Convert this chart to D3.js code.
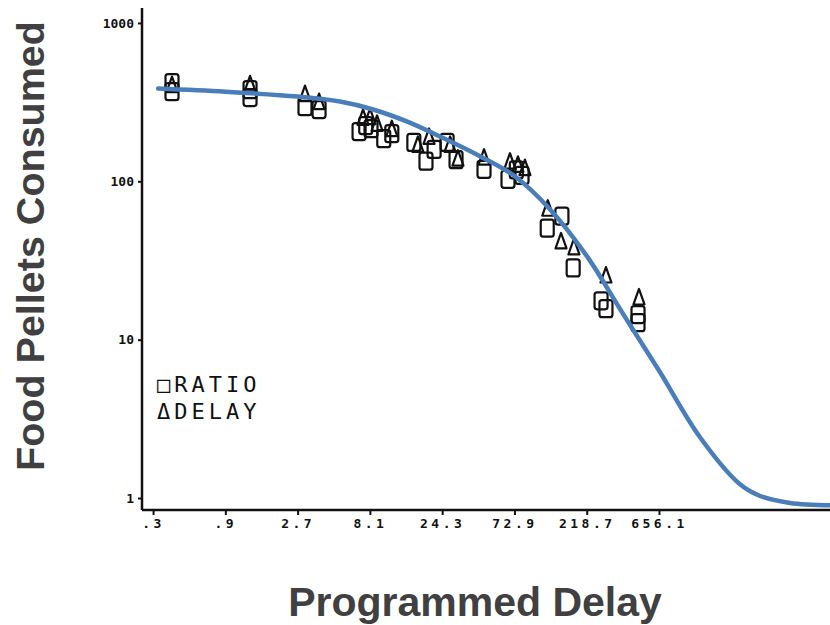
<!DOCTYPE html>
<html>
<head>
<meta charset="utf-8">
<script src="https://cdn.jsdelivr.net/npm/d3@7"></script>
<style>
  body { margin: 0; background: #fff; }
</style>
</head>
<body>
<div id="chart"></div>
<script>
// x tick values (programmed delay), y tick values
var xTicks = [0.3, 0.9, 2.7, 8.1, 24.3, 72.9, 218.7, 656.1];
var xTickLabels = [".3", ".9", "2.7", "8.1", "24.3", "72.9", "218.7", "656.1"];
var yTicks = [1, 10, 100, 1000];

// RATIO points (squares): delay / pellets
var ratioX = [0.40, 0.40, 1.31, 1.31, 3.02, 3.74, 6.87, 7.6, 8.24, 10.0, 11.3, 15.8, 19.0, 21.5, 26.2, 30.0, 45.9, 66.1, 75, 81.8, 120, 150, 178, 272, 293, 477, 477];
var ratioY = [420, 368, 379, 338, 296, 284, 206, 225, 215, 186, 200, 176, 134, 159, 176, 137, 119, 103, 118, 109, 50.6, 60.3, 28.4, 17.6, 15.7, 14.4, 12.8];

// DELAY points (triangles)
var delayX = [0.40, 1.31, 3.02, 3.74, 7.30, 8.12, 9.03, 11.3, 16.8, 19.9, 27.4, 30.9, 45.9, 68.1, 76.9, 85.5, 121, 148, 180, 293, 484];
var delayY = [408, 413, 358, 319, 253, 256, 232, 215, 171, 192, 171, 140, 142, 134, 128, 122, 67.6, 42, 38.5, 25.6, 18.6];

// fitted curve
var fitX = [0.324, 0.9, 2.7, 5.14, 8.5, 14.3, 24.3, 43.2, 72.9, 125, 218.7, 379, 656.1, 1224, 2249, 3048, 4808, 8830];
var fitY = [385, 368, 343, 319, 284, 238, 189, 144, 108, 66.7, 33.8, 14.6, 6.38, 2.42, 1.22, 1.03, 0.93, 0.90];

var width = 830, height = 625;
var svg = d3.select("#chart").append("svg")
    .attr("width", width).attr("height", height);

var x = d3.scaleLog().domain([0.2535, 8830]).range([142, 830]);
var y = d3.scaleLog().domain([0.84, 1243]).range([510, 8]);

// axis lines
svg.append("line")
    .attr("x1", x.range()[0]).attr("x2", x.range()[0])
    .attr("y1", y.range()[1]).attr("y2", y.range()[0])
    .attr("stroke", "#111").attr("stroke-width", 2.5);
svg.append("line")
    .attr("x1", x.range()[0]).attr("x2", x.range()[1])
    .attr("y1", y.range()[0]).attr("y2", y.range()[0])
    .attr("stroke", "#111").attr("stroke-width", 2.5);

var xAxis = svg.append("g")
    .attr("transform", "translate(0," + y.range()[0] + ")")
    .call(d3.axisBottom(x).tickValues(xTicks).tickSize(5).tickPadding(4)
        .tickFormat(function(d, i) { return xTickLabels[i]; }));
xAxis.select(".domain").remove();
xAxis.selectAll(".tick line").attr("stroke", "#111").attr("stroke-width", 2);
xAxis.selectAll(".tick text")
    .attr("fill", "#111")
    .attr("font-size", "13px")
    .attr("letter-spacing", "3.5px")
    .attr("font-family", "DejaVu Sans Mono, monospace")
    .attr("font-weight", "bold");

var yAxis = svg.append("g")
    .attr("transform", "translate(" + x.range()[0] + ",0)")
    .call(d3.axisLeft(y).tickValues(yTicks).tickSize(4).tickPadding(4)
        .tickFormat(d3.format("d")));
yAxis.select(".domain").remove();
yAxis.selectAll(".tick line").attr("stroke", "#111").attr("stroke-width", 2);
yAxis.selectAll(".tick text")
    .attr("fill", "#111")
    .attr("font-size", "13px")
    .attr("font-family", "DejaVu Sans Mono, monospace")
    .attr("font-weight", "bold");

// markers
var ratio = ratioX.map(function(d, i) { return {x: d, y: ratioY[i]}; });
var delay = delayX.map(function(d, i) { return {x: d, y: delayY[i]}; });

svg.append("g").selectAll("rect")
    .data(ratio)
    .enter().append("rect")
    .attr("x", function(d) { return x(d.x) - 6.5; })
    .attr("y", function(d) { return y(d.y) - 8.5; })
    .attr("width", 13).attr("height", 17)
    .attr("rx", 2.5)
    .attr("fill", "none")
    .attr("stroke", "#111")
    .attr("stroke-width", 2.2);

svg.append("g").selectAll("path")
    .data(delay)
    .enter().append("path")
    .attr("transform", function(d) { return "translate(" + x(d.x) + "," + y(d.y) + ")"; })
    .attr("d", "M0,-8L5.5,7.5L-5.5,7.5Z")
    .attr("fill", "none")
    .attr("stroke", "#111")
    .attr("stroke-width", 2.2)
    .attr("stroke-linejoin", "round");

// fitted curve
var fit = fitX.map(function(d, i) { return {x: d, y: fitY[i]}; });
var line = d3.line()
    .curve(d3.curveCatmullRom.alpha(0.5))
    .x(function(d) { return x(d.x); })
    .y(function(d) { return y(d.y); });
svg.append("path")
    .datum(fit)
    .attr("d", line)
    .attr("fill", "none")
    .attr("stroke", "#4a7ebb")
    .attr("stroke-width", 4.5)
    .attr("stroke-linecap", "round");

// legend
var legend = svg.append("g")
    .attr("font-family", "DejaVu Sans Mono, monospace")
    .attr("font-size", "22px")
    .attr("letter-spacing", "4px")
    .attr("fill", "#111");
legend.append("text").attr("x", 157).attr("y", 392).text("\u25A1RATIO");
legend.append("text").attr("x", 157).attr("y", 419).text("\u0394DELAY");

// axis titles
svg.append("text")
    .attr("transform", "translate(44,246) rotate(-90)")
    .attr("text-anchor", "middle")
    .attr("font-family", "Liberation Sans, Arial, sans-serif")
    .attr("font-weight", "bold")
    .attr("font-size", "39.5px")
    .attr("fill", "#404040")
    .text("Food Pellets Consumed");

svg.append("text")
    .attr("x", 475).attr("y", 616)
    .attr("text-anchor", "middle")
    .attr("font-family", "Liberation Sans, Arial, sans-serif")
    .attr("font-weight", "bold")
    .attr("font-size", "41px")
    .attr("fill", "#404040")
    .text("Programmed Delay");
</script>
</body>
</html>
